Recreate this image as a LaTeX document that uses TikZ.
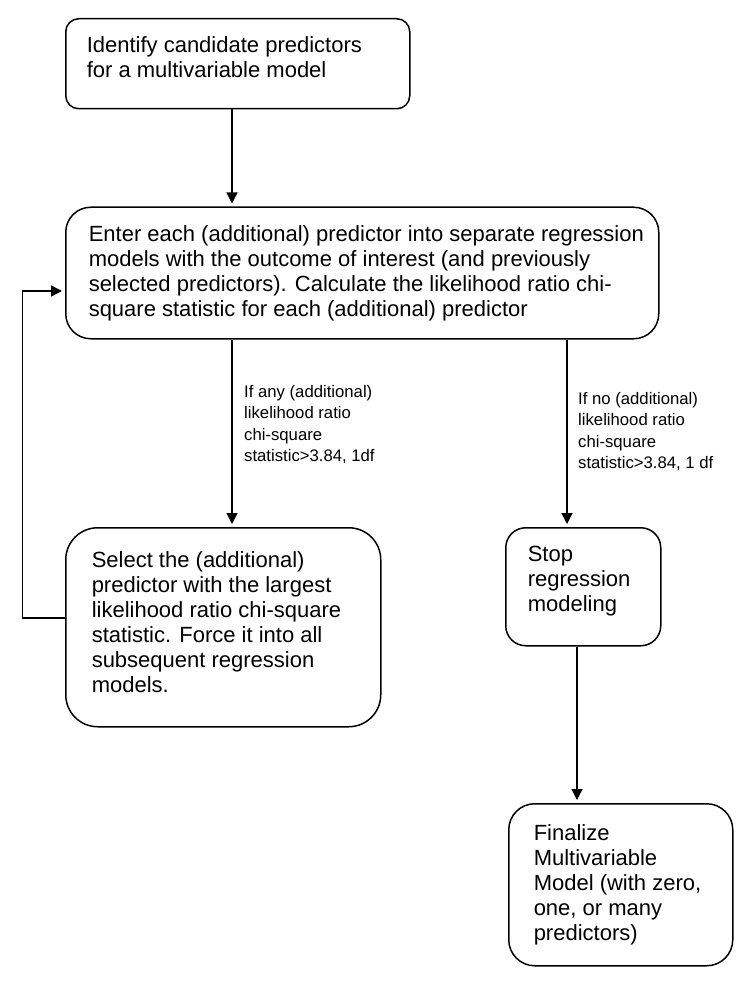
\documentclass[tikz,border=0pt]{standalone}
\usepackage{fontspec}
\setmainfont{Liberation Sans}
\usetikzlibrary{arrows.meta}
\newcommand{\boxtext}[4]{\parbox[c][#2][t]{#1}{\raggedright\leftskip=#3\strut#4}}
\newcommand{\condtext}[1]{\parbox[t]{150pt}{\raggedright\strut#1}}

\begin{document}
\begin{tikzpicture}[x=1pt, y=-1pt,
  stepbox/.style={draw, line width=1.5pt, anchor=north west, inner xsep=0pt, font={\fontsize{22}{25}\selectfont}},
  cond/.style={anchor=north west, inner sep=0pt, font={\fontsize{16.7}{21.5}\selectfont}},
  flow/.style={line width=1.3pt, -{Triangle[length=11pt,width=11pt]}, shorten >=3pt}]
\useasboundingbox (0,0) rectangle (750,981);
\node[stepbox, rounded corners=13pt, inner ysep=16.5pt] (identify) at (65,18) {\boxtext{344pt}{57pt}{21pt}{Identify candidate predictors\\for a multivariable model}};
\node[stepbox, rounded corners=25pt, inner ysep=17pt] (enter) at (65,206.5) {\boxtext{593pt}{97.5pt}{23pt}{Enter each (additional) predictor into separate regression\\models with the outcome of interest (and previously\\selected predictors). Calculate the likelihood ratio chi-\\square statistic for each (additional) predictor}};
\node[stepbox, rounded corners=32pt, inner ysep=22.5pt] (select) at (65,527) {\boxtext{315pt}{154pt}{26pt}{Select the (additional)\\predictor with the largest\\likelihood ratio chi-square\\statistic. Force it into all\\subsequent regression\\models.}};
\node[stepbox, rounded corners=20pt, inner ysep=16.5pt] (stop) at (505,527) {\boxtext{155pt}{85pt}{22pt}{Stop\\regression\\modeling}};
\node[stepbox, rounded corners=26pt, inner ysep=19.5pt] (final) at (508,803) {\boxtext{224pt}{123pt}{25pt}{Finalize\\Multivariable\\Model (with zero,\\one, or many\\predictors)}};
\node[cond] (anycond) at (244,382) {\condtext{If any (additional)\\likelihood ratio\\chi-square\\statistic>3.84, 1df}};
\node[cond] (nocond) at (578,389) {\condtext{If no (additional)\\likelihood ratio\\chi-square\\statistic>3.84, 1 df}};
\coordinate (xleft) at (232,0);
\coordinate (xright) at (567,0);
\coordinate (xstop) at (577,0);
\coordinate (loopx) at (22.7,0);
\coordinate (ybelow) at (0,618);
\coordinate (yabove) at (0,291);
\draw[flow] (identify.south -| xleft) -- (enter.north -| xleft);
\draw[flow] (enter.south -| xleft) -- (select.north -| xleft);
\draw[flow] (enter.south -| xright) -- (stop.north -| xright);
\draw[flow] (stop.south -| xstop) -- (final.north -| xstop);
\draw[flow] (select.west |- ybelow) -- (loopx |- ybelow) -- (loopx |- yabove) -- (enter.west |- yabove);
\end{tikzpicture}
\end{document}
